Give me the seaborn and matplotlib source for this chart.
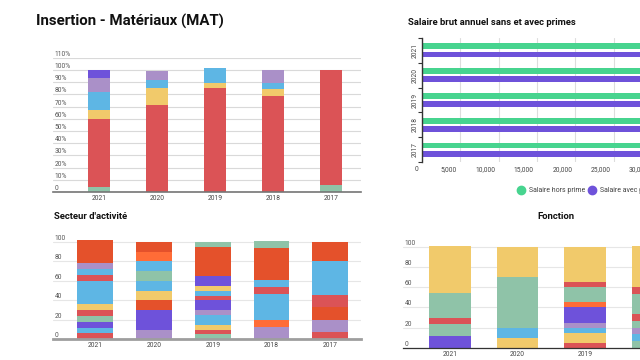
import numpy as np
import pandas as pd
import seaborn as sns
import matplotlib.pyplot as plt
import matplotlib.transforms as mtrans
from matplotlib.lines import Line2D

sns.set_style("white")
plt.rcParams['font.family'] = ['Roboto', 'DejaVu Sans']

years = ["2021", "2020", "2019", "2018", "2017"]

# Insertion (%) : segments du bas vers le haut
insertion = {
    "2021": (["F", "A", "B", "C", "D", "E"], [4, 56, 7, 15, 11, 7]),
    "2020": (["A", "B", "C", "D"], [71, 14, 7, 7]),
    "2019": (["A", "B", "C"], [85.5, 3.8, 12.3]),
    "2018": (["A", "B", "C", "D"], [79, 5, 5, 11]),
    "2017": (["F", "A"], [6, 94]),
}

# Secteur d'activité
secteur = {
    "2021": (["A", "C", "E", "F", "A", "B", "C", "A", "C", "D", "G"],
             [6, 6, 6, 6, 6, 6, 24, 6, 6, 6, 24]),
    "2020": (["D", "E", "G", "B", "C", "F", "C", "H", "G"],
             [10, 20, 10, 10, 10, 10, 10, 10, 10]),
    "2019": (["F", "A", "B", "C", "D", "E", "A", "C", "B", "E", "G", "F"],
             [5, 5, 5, 10, 5, 10, 5, 5, 5, 10, 30, 5]),
    "2018": (["D", "H", "C", "A", "C", "G", "F"], [13, 7, 27, 7, 7, 33, 7]),
    "2017": (["A", "D", "G", "A", "C", "G"], [7, 13, 13, 13, 34, 20]),
}

# Fonction
fonction = {
    "2021": (["E", "F", "A", "F", "B"], [12, 12, 6, 24, 47]),
    "2020": (["B", "C", "F", "B"], [10, 10, 50, 30]),
    "2019": (["A", "B", "C", "D", "E", "H", "F", "A", "B"], [5, 10, 5, 5, 15, 5, 15, 5, 35]),
    "2018": (["F", "C", "D", "F", "A", "F", "A", "B"], [6.7, 6.7, 6.7, 6.7, 6.7, 20, 6.7, 40]),
}

# Salaire brut annuel
series = ["Salaire hors prime", "Salaire avec primes"]
salaire_hors_prime = [31500, 31000, 30500, 30000, 29500]
salaire_avec_primes = [33500, 33000, 32500, 32000, 31500]

PALETTE = {"A": "#db5356", "B": "#f1ca6b", "C": "#5eb6e4", "D": "#aa90c8",
           "E": "#6e52da", "F": "#8fc3a8", "G": "#e4512b", "H": "#ff6c37"}
GREEN = "#47d48f"
PURPLE = "#6e52da"

W, H = 640, 360


def box(x0, y0, x1, y1):
    return [x0 / W, 1 - y1 / H, (x1 - x0) / W, (y1 - y0) / H]


def draw_stack(ax, table, order, width):
    depth = max(len(v[1]) for v in table.values())
    for k in reversed(range(depth)):
        xs, ys, pal = [], [], {}
        for yr in order:
            if yr not in table:
                continue
            cats, vals = table[yr]
            if k < len(vals):
                xs.append(yr)
                ys.append(float(np.sum(vals[:k + 1])))
                pal[yr] = PALETTE[cats[k]]
        sns.barplot(x=xs, y=ys, hue=xs, palette=pal, order=order, dodge=False,
                    width=width, saturation=1, legend=False, linewidth=0, ax=ax)


def inside_yticks(ax, ticks, labels):
    ax.set_yticks(ticks)
    ax.set_yticklabels(labels)
    ax.tick_params(axis='y', length=0, pad=-1, labelsize=4.8, labelcolor='#555555')
    for t in ax.get_yticklabels():
        t.set_ha('left')
        t.set_va('bottom')


def clean(ax, base_color, base_lw):
    for s in ['top', 'right', 'left']:
        ax.spines[s].set_visible(False)
    ax.spines['bottom'].set_color(base_color)
    ax.spines['bottom'].set_linewidth(base_lw)
    ax.set_axisbelow(True)
    ax.set_xlabel('')
    ax.set_ylabel('')
    ax.tick_params(axis='x', length=0, pad=2, labelsize=4.8, labelcolor='#444444')


fig = plt.figure(figsize=(6.4, 3.6), dpi=100)

# --- Insertion
ax1 = fig.add_axes(box(53, 57.7, 361, 192))
draw_stack(ax1, insertion, years, 0.38)
ax1.set_xlim(-0.79, 4.51)
ax1.set_ylim(0, 110)
clean(ax1, '#757575', 1.2)
inside_yticks(ax1, range(0, 111, 10), ["0"] + [f"{v}%" for v in range(10, 111, 10)])
ax1.grid(axis='y', color='#d9d9d9', lw=0.8)
fig.text(35.7 / W, 1 - 21.7 / H, "Insertion - Matériaux (MAT)", fontsize=10.8,
         fontweight='bold', ha='left', va='center', color='#111111')

# --- Salaire
ax2 = fig.add_axes(box(421.7, 38, 421.7 + 8 * 38.4, 162))
df = pd.DataFrame({
    'annee': years * 2,
    'salaire': salaire_hors_prime + salaire_avec_primes,
    'serie': [series[0]] * 5 + [series[1]] * 5,
})
sns.barplot(data=df, y='annee', x='salaire', hue='serie', orient='h',
            palette=[GREEN, PURPLE], width=0.66, gap=0.3, saturation=1,
            legend=False, linewidth=0, ax=ax2)
ax2.set_xlim(0, 40000)
ax2.set_ylim(4.5, -0.5)
for s in ['top', 'right', 'bottom']:
    ax2.spines[s].set_visible(False)
ax2.spines['left'].set_color('#333333')
ax2.spines['left'].set_linewidth(1)
ax2.set_axisbelow(True)
ax2.set_xlabel('')
ax2.set_ylabel('')
ax2.set_xticks(range(0, 40001, 5000))
ax2.set_xticklabels([f"{v:,}" for v in range(0, 40001, 5000)])
ax2.grid(axis='x', color='#dddddd', lw=0.8)
ax2.tick_params(axis='x', length=0, pad=3, labelsize=4.8, labelcolor='#444444')
shift = mtrans.ScaledTranslation(-3 / 100, 0, fig.dpi_scale_trans)
for t in ax2.get_xticklabels():
    t.set_ha('right')
    t.set_transform(t.get_transform() + shift)
ax2.set_yticks(range(5))
ax2.set_yticklabels(years, rotation=90, va='center', ha='center')
ax2.set_yticks(np.arange(-0.5, 5, 1), minor=True)
ax2.tick_params(axis='y', which='major', length=0, pad=5, labelsize=4.8, labelcolor='#444444')
ax2.tick_params(axis='y', which='minor', length=3, width=0.8, color='#333333', left=True)
fig.text(408 / W, 1 - 22.7 / H, "Salaire brut annuel sans et avec primes", fontsize=6.8,
         fontweight='bold', ha='left', va='center', color='#111111')
handles = [Line2D([], [], marker='o', ls='', color=GREEN, markersize=6),
           Line2D([], [], marker='o', ls='', color=PURPLE, markersize=6)]
fig.legend(handles, series, loc='center left', bbox_to_anchor=(517.5 / W, 1 - 190.7 / H),
           ncol=2, frameon=False, fontsize=5, handlelength=1, handletextpad=0.7,
           columnspacing=0.4, borderpad=0, borderaxespad=0, labelcolor='#444444')

# --- Secteur d'activité
ax3 = fig.add_axes(box(53, 238.1, 360.7, 339.3))
draw_stack(ax3, secteur, years, 0.61)
ax3.set_xlim(-0.72, 4.52)
ax3.set_ylim(0, 104)
clean(ax3, '#9e9e9e', 2)
inside_yticks(ax3, range(0, 101, 20), [str(v) for v in range(0, 101, 20)])
ax3.grid(axis='y', color='#e6e6e6', lw=0.8)
fig.text(54 / W, 1 - 216.7 / H, "Secteur d'activité", fontsize=6.8,
         fontweight='bold', ha='left', va='center', color='#111111')

# --- Fonction
ax4 = fig.add_axes(box(403, 242.6, 769, 348))
draw_stack(ax4, fonction, years, 0.615)
ax4.set_xlim(-0.69, 4.71)
ax4.set_ylim(0, 104)
clean(ax4, '#333333', 0.9)
inside_yticks(ax4, range(0, 101, 20), [str(v) for v in range(0, 101, 20)])
ax4.grid(axis='y', color='#e6e6e6', lw=0.8)
fig.text(556 / W, 1 - 216.7 / H, "Fonction", fontsize=6.8,
         fontweight='bold', ha='center', va='center', color='#111111')

fig.savefig('out.png', dpi=100)
